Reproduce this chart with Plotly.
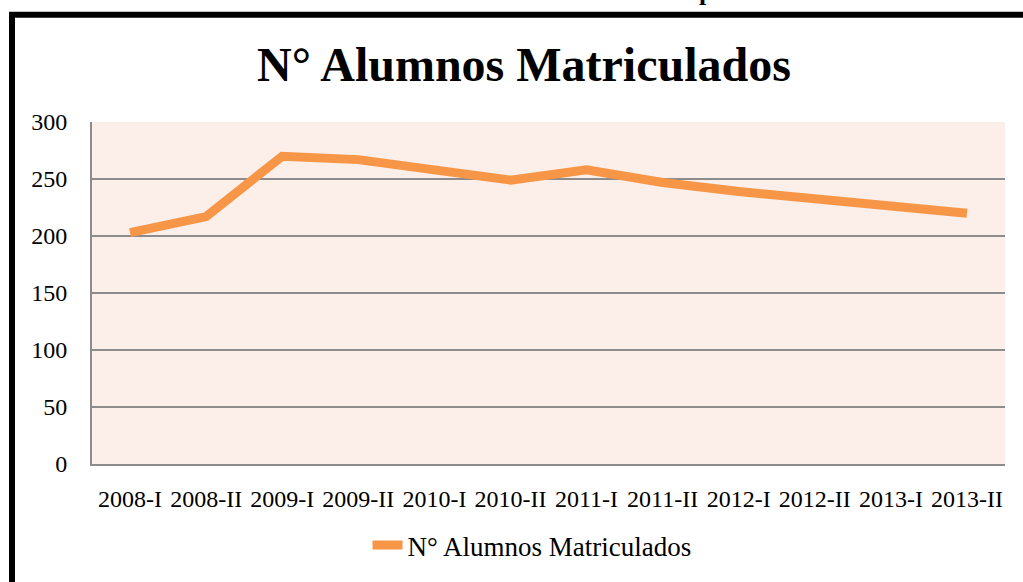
import plotly.graph_objects as go

# data
semestres = ["2008-I", "2008-II", "2009-I", "2009-II", "2010-I", "2010-II",
             "2011-I", "2011-II", "2012-I", "2012-II", "2013-I", "2013-II"]
alumnos = [203, 217, 270, 267, 258, 249, 258, 247, 239, 233, 227, 220]
y_ticks = [0, 50, 100, 150, 200, 250, 300]

SERIF = "Liberation Serif, Times New Roman, serif"
ORANGE = "#F79646"
GRID = "#8C8C8C"

fig = go.Figure()
fig.add_trace(go.Scatter(
    x=semestres,
    y=alumnos,
    mode="lines",
    name="N° Alumnos Matriculados",
    line=dict(color=ORANGE, width=9),
))

# plot area pixels: x 92..1005, y 122..466
L, R, T, B = 92, 18, 122, 116
W = 1023 - L - R
H = 582 - T - B


def px_x(p):
    return (p - L) / W


def px_y(p):
    return (582 - B - p) / H


fig.update_layout(
    width=1023,
    height=582,
    margin=dict(l=L, r=R, t=T, b=B),
    paper_bgcolor="white",
    plot_bgcolor="#FCEEE9",
    font=dict(family=SERIF, color="black", size=24),
    showlegend=True,
    legend=dict(
        orientation="h",
        x=px_x(532), xanchor="center",
        y=px_y(548), yanchor="middle",
        font=dict(family=SERIF, size=27),
        bgcolor="rgba(0,0,0,0)",
    ),
    annotations=[
        dict(text="<b>N° Alumnos Matriculados</b>", xref="paper", yref="paper",
             x=px_x(524), y=px_y(64), xanchor="center", yanchor="middle",
             showarrow=False, font=dict(family=SERIF, size=48, color="black")),
        # fragment of a heading cut off at the top edge of the picture
        dict(text="<b>p</b>", xref="paper", yref="paper",
             x=px_x(706), y=px_y(-9), xanchor="center", yanchor="middle",
             showarrow=False, font=dict(family=SERIF, size=26, color="black")),
    ],
    shapes=[
        dict(type="rect", xref="paper", yref="paper",
             x0=px_x(12), x1=px_x(1040), y0=px_y(600), y1=px_y(14),
             line=dict(color="black", width=6), fillcolor="rgba(0,0,0,0)",
             layer="below"),
    ],
)

fig.update_xaxes(
    type="category",
    range=[-0.5, len(semestres) - 0.5],
    showgrid=False,
    showline=True, linecolor=GRID, linewidth=2,
    ticks="", ticklabelstandoff=12,
    tickfont=dict(family=SERIF, size=24),
)
fig.update_yaxes(
    range=[0, 300],
    tickvals=y_ticks,
    showgrid=True, gridcolor=GRID, gridwidth=2,
    showline=True, linecolor=GRID, linewidth=2,
    zeroline=False,
    ticks="", ticklabelstandoff=18,
    tickfont=dict(family=SERIF, size=24),
)

# drop the page's default body margin so the figure sits at the top-left corner
fig.write_html("out.html", config={"displayModeBar": False},
               post_script="document.body.style.margin='0px';")
